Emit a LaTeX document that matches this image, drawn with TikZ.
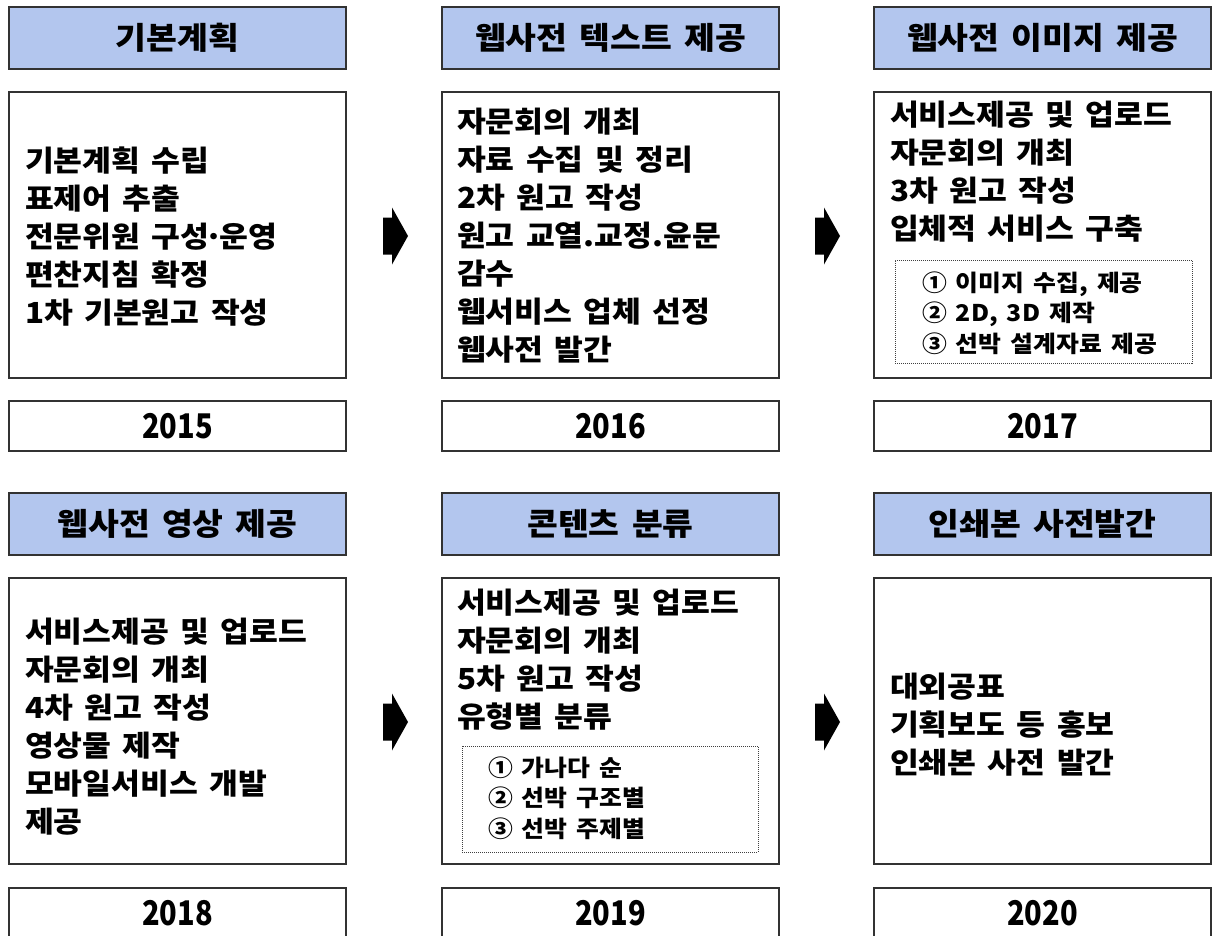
\documentclass[tikz,border=0pt]{standalone}
\usepackage{fontspec}
\setmainfont{Noto Sans CJK KR}[WordSpace=1.6,FakeStretch=1.08]
\usepackage{graphicx}
\definecolor{hdrblue}{RGB}{179,198,238}
\definecolor{edge}{RGB}{50,50,50}
\newcommand{\mdot}{\makebox[10pt]{·}}
\begin{document}
\begin{tikzpicture}[x=1pt,y=-1pt,
  every node/.style={inner sep=0pt,outer sep=0pt},
  hdr/.style={draw=edge,line width=1.4pt,fill=hdrblue,minimum width=337pt,minimum height=62pt,anchor=north west,
    font=\fontsize{31}{31}\selectfont\bfseries},
  body/.style={draw=edge,line width=1.2pt,fill=white,minimum width=337pt,minimum height=286pt,anchor=north west},
  yearbox/.style={draw=edge,line width=1.4pt,minimum width=337pt,minimum height=50pt,anchor=north west,
    font=\fontsize{34}{34}\selectfont\bfseries},
  txt/.style={anchor=west,align=left,font=\fontsize{29}{38}\selectfont\bfseries},
  subtxt/.style={anchor=west,align=left,font=\fontsize{23}{30.5}\selectfont\bfseries},
  dotbox/.style={draw=black!75,line width=0.8pt,dash pattern=on 1pt off 1pt,anchor=north west},
  blockarrow/.pic={\fill[black] (0,-18.5) -- (9,-18.5) -- (9,-28.5) -- (25,0) -- (9,28.5) -- (9,18.5) -- (0,18.5) -- cycle;}
]
\clip (0,0) rectangle (1212,936);
\useasboundingbox (0,0) rectangle (1212,936);
\fill[white] (0,0) rectangle (1212,936);

% ---------- row 1 ----------
\node[hdr] (h1) at (9,7) {기본계획};
\node[hdr] (h2) at (442,7) {웹사전 텍스트 제공};
\node[hdr] (h3) at (874,7) {웹사전 이미지 제공};

\node[body] (b1) at (9,92) {};
\node[body] (b2) at (442,92) {};
\node[body] (b3) at (874,92) {};

\node[txt] (t1) at (25,236.5) {기본계획 수립\\표제어 추출\\전문위원 구성\mdot 운영\\편찬지침 확정\\1차 기본원고 작성};
\node[txt] (t2) at (457,236) {자문회의 개최\\자료 수집 및 정리\\2차 원고 작성\\원고 교열.교정.윤문\\감수\\웹서비스 업체 선정\\웹사전 발간};
\node[txt] (t3) at (890,172) {서비스제공 및 업로드\\자문회의 개최\\3차 원고 작성\\입체적 서비스 구축};
\node[dotbox,minimum width=297pt,minimum height=103pt] (d3) at (895,260) {};
\node[subtxt] (s3) at (922,313) {① 이미지 수집, 제공\\② 2D, 3D 제작\\③ 선박 설계자료 제공};

\node[yearbox] (y1) at (9,401) {\scalebox{0.79}[1]{2015}};
\node[yearbox] (y2) at (442,401) {\scalebox{0.79}[1]{2016}};
\node[yearbox] (y3) at (874,401) {\scalebox{0.79}[1]{2017}};

\coordinate (a1) at (383,236);
\coordinate (a2) at (815,236);
\pic at (a1) {blockarrow};
\pic at (a2) {blockarrow};

% ---------- row 2 ----------
\node[hdr] (h4) at (9,493) {웹사전 영상 제공};
\node[hdr] (h5) at (442,493) {콘텐츠 분류};
\node[hdr] (h6) at (874,493) {인쇄본 사전발간};

\node[body] (b4) at (9,578) {};
\node[body] (b5) at (442,578) {};
\node[body] (b6) at (874,578) {};

\node[txt] (t4) at (25,727) {서비스제공 및 업로드\\자문회의 개최\\4차 원고 작성\\영상물 제작\\모바일서비스 개발\\제공};
\node[txt] (t5) at (457,660) {서비스제공 및 업로드\\자문회의 개최\\5차 원고 작성\\유형별 분류};
\node[dotbox,minimum width=296pt,minimum height=106pt] (d5) at (462,746) {};
\node[subtxt] (s5) at (488,798) {① 가나다 순\\② 선박 구조별\\③ 선박 주제별};
\node[txt] (t6) at (890,725) {대외공표\\기획보도 등 홍보\\인쇄본 사전 발간};

\node[yearbox] (y4) at (9,888) {\scalebox{0.79}[1]{2018}};
\node[yearbox] (y5) at (442,888) {\scalebox{0.79}[1]{2019}};
\node[yearbox] (y6) at (874,888) {\scalebox{0.79}[1]{2020}};

\coordinate (a3) at (383,722);
\coordinate (a4) at (815,722);
\pic at (a3) {blockarrow};
\pic at (a4) {blockarrow};
\end{tikzpicture}
\end{document}
